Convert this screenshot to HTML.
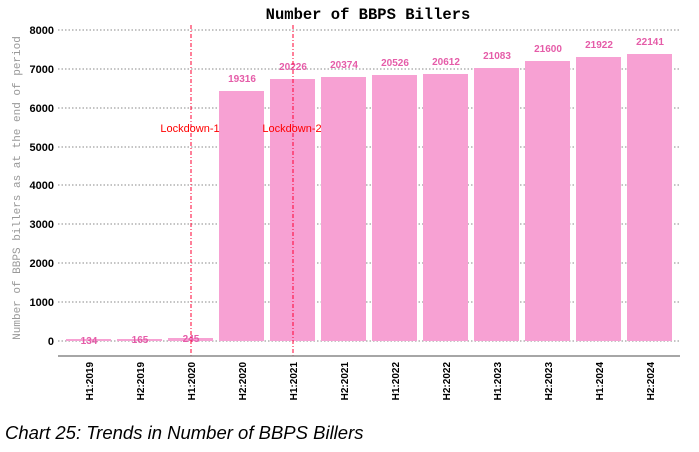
<!DOCTYPE html>
<html><head><style>body{margin:0;background:#fff}</style></head><body>
<svg width="699" height="447" xmlns="http://www.w3.org/2000/svg" font-family="Liberation Sans, sans-serif">
<text x="368" y="19" text-anchor="middle" font-family="Liberation Mono, monospace" font-weight="bold" font-size="15.5">Number of BBPS Billers</text>
<g stroke="#888" stroke-dasharray="1.5,2" stroke-width="1">
<line x1="58" x2="680" y1="341" y2="341"/><line x1="58" x2="680" y1="302" y2="302"/><line x1="58" x2="680" y1="263" y2="263"/><line x1="58" x2="680" y1="224" y2="224"/><line x1="58" x2="680" y1="185" y2="185"/><line x1="58" x2="680" y1="147" y2="147"/><line x1="58" x2="680" y1="108" y2="108"/><line x1="58" x2="680" y1="69" y2="69"/><line x1="58" x2="680" y1="30" y2="30"/>
</g>
<g font-size="11" font-weight="bold" text-anchor="end">
<text x="54" y="345">0</text><text x="54" y="306">1000</text><text x="54" y="267">2000</text><text x="54" y="228">3000</text><text x="54" y="189">4000</text><text x="54" y="151">5000</text><text x="54" y="112">6000</text><text x="54" y="73">7000</text><text x="54" y="34">8000</text>
</g>
<text transform="translate(20,188) rotate(-90)" text-anchor="middle" font-family="Liberation Mono, monospace" font-size="11" fill="#999">Number of BBPS billers as at the end of period</text>
<g fill="#f7a1d3">
<rect x="66" y="339" width="45" height="2"/><rect x="117" y="339" width="45" height="2"/><rect x="168" y="338" width="45" height="3"/>
<rect x="219" y="91" width="45" height="250"/><rect x="270" y="79" width="45" height="262"/><rect x="321" y="77" width="45" height="264"/><rect x="372" y="75" width="45" height="266"/><rect x="423" y="74" width="45" height="267"/><rect x="474" y="68" width="45" height="273"/><rect x="525" y="61" width="45" height="280"/><rect x="576" y="57" width="45" height="284"/><rect x="627" y="54" width="45" height="287"/>
</g>
<g font-size="10" font-weight="bold" fill="#e55ca8" text-anchor="middle">
<text x="89" y="344">134</text><text x="140" y="343">165</text><text x="191" y="342">245</text>
<text x="242" y="82">19316</text><text x="293" y="70">20226</text><text x="344" y="68">20374</text><text x="395" y="66">20526</text><text x="446" y="65">20612</text><text x="497" y="59">21083</text><text x="548" y="52">21600</text><text x="599" y="48">21922</text><text x="650" y="45">22141</text>
</g>
<g stroke="#f03" stroke-dasharray="4,2,1,2" stroke-width="1">
<line x1="191" x2="191" y1="25" y2="356"/><line x1="293" x2="293" y1="25" y2="356"/>
</g>
<g font-size="11" fill="#f00" text-anchor="middle"><text x="190" y="132">Lockdown-1</text><text x="292" y="132">Lockdown-2</text></g>
<line x1="58" x2="680" y1="356" y2="356" stroke="#888" stroke-width="1.5"/>
<g font-size="10" font-weight="bold">
<g transform="translate(93,362) rotate(-90)"><text text-anchor="end">H1:2019</text></g>
<g transform="translate(144,362) rotate(-90)"><text text-anchor="end">H2:2019</text></g>
<g transform="translate(195,362) rotate(-90)"><text text-anchor="end">H1:2020</text></g>
<g transform="translate(246,362) rotate(-90)"><text text-anchor="end">H2:2020</text></g>
<g transform="translate(297,362) rotate(-90)"><text text-anchor="end">H1:2021</text></g>
<g transform="translate(348,362) rotate(-90)"><text text-anchor="end">H2:2021</text></g>
<g transform="translate(399,362) rotate(-90)"><text text-anchor="end">H1:2022</text></g>
<g transform="translate(450,362) rotate(-90)"><text text-anchor="end">H2:2022</text></g>
<g transform="translate(501,362) rotate(-90)"><text text-anchor="end">H1:2023</text></g>
<g transform="translate(552,362) rotate(-90)"><text text-anchor="end">H2:2023</text></g>
<g transform="translate(603,362) rotate(-90)"><text text-anchor="end">H1:2024</text></g>
<g transform="translate(654,362) rotate(-90)"><text text-anchor="end">H2:2024</text></g>
</g>
<text x="5" y="439" font-size="18.5" font-style="italic">Chart 25: Trends in Number of BBPS Billers</text>
</svg>
</body></html>
